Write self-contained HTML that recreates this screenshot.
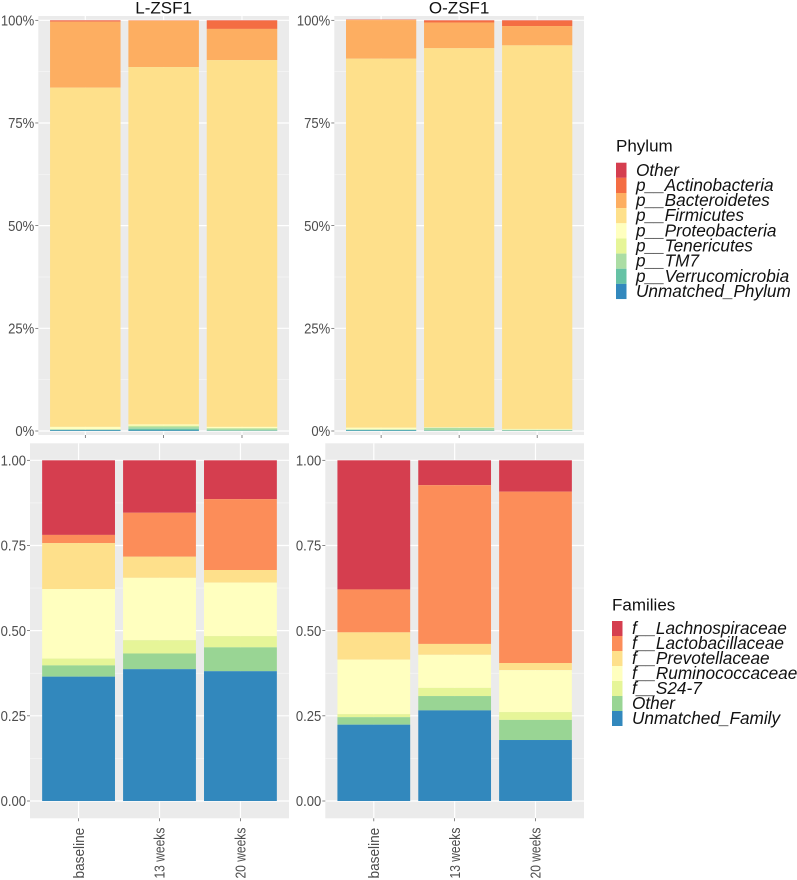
<!DOCTYPE html>
<html lang="en">
<head>
<meta charset="utf-8">
<title>L-ZSF1 and O-ZSF1 composition</title>
<style>
html,body{margin:0;padding:0;background:#fff;width:797px;height:880px;overflow:hidden}
svg{display:block;font-family:"Liberation Sans",sans-serif;filter:blur(0.3px)}
</style>
</head>
<body>
<svg id="chart" xmlns="http://www.w3.org/2000/svg" width="797" height="880" viewBox="0 0 797 880"></svg>
<script>
const timepoints = ['baseline', '13 weeks', '20 weeks'];
const phylumNames = ['Other', 'p__Actinobacteria', 'p__Bacteroidetes', 'p__Firmicutes', 'p__Proteobacteria', 'p__Tenericutes', 'p__TM7', 'p__Verrucomicrobia', 'Unmatched_Phylum'];
const phylumColors = ['#d53e4f', '#f46d43', '#fdae61', '#fee08b', '#ffffbf', '#e6f598', '#abdda4', '#66c2a5', '#3288bd'];
const familyNames = ['f__Lachnospiraceae', 'f__Lactobacillaceae', 'f__Prevotellaceae', 'f__Ruminococcaceae', 'f__S24-7', 'Other', 'Unmatched_Family'];
const familyColors = ['#d53e4f', '#fc8d59', '#fee08b', '#ffffbf', '#e6f598', '#99d594', '#3288bd'];

// Each row: one time point, values in legend order (top of the stack first)
const phylumLZSF1 = [
  [0.05, 0.30, 16.05, 82.60, 0.60, 0.05, 0.05, 0.15, 0.15],
  [0.00, 0.10, 11.30, 87.00, 0.30, 0.20, 0.55, 0.40, 0.15],
  [0.05, 2.05, 7.60, 89.30, 0.30, 0.10, 0.50, 0.05, 0.05]
];
const phylumOZSF1 = [
  [0.05, 0.10, 9.40, 89.85, 0.45, 0.02, 0.03, 0.20, 0.10],
  [0.05, 0.50, 6.25, 92.30, 0.10, 0.05, 0.65, 0.05, 0.05],
  [0.05, 1.35, 4.70, 93.40, 0.20, 0.02, 0.18, 0.05, 0.05]
];
const familyLZSF1 = [
  [0.219, 0.024, 0.135, 0.204, 0.020, 0.033, 0.365],
  [0.154, 0.129, 0.062, 0.183, 0.039, 0.046, 0.387],
  [0.114, 0.208, 0.037, 0.157, 0.033, 0.070, 0.381]
];
const familyOZSF1 = [
  [0.379, 0.126, 0.080, 0.160, 0.009, 0.022, 0.224],
  [0.073, 0.466, 0.032, 0.097, 0.024, 0.042, 0.266],
  [0.092, 0.503, 0.021, 0.123, 0.023, 0.059, 0.179]
];
const percentTicks = [0, 25, 50, 75, 100];
const percentTickLabels = ['0%', '25%', '50%', '75%', '100%'];
const fractionTicks = [0, 0.25, 0.5, 0.75, 1];
const fractionTickLabels = ['0.00', '0.25', '0.50', '0.75', '1.00'];

const NS = 'http://www.w3.org/2000/svg';
const root = document.getElementById('chart');

function make(tag, attrs, parent, text) {
  const el = document.createElementNS(NS, tag);
  for (const k in attrs) el.setAttribute(k, attrs[k]);
  if (text !== undefined) el.textContent = text;
  parent.appendChild(el);
  return el;
}

function squeeze(el, factor) {
  el.setAttribute('lengthAdjust', 'spacingAndGlyphs');
  el.setAttribute('textLength', el.getComputedTextLength() * factor);
}

function drawPanel(cfg) {
  const g = make('g', {}, root);
  
  

  const w = cfg.right - cfg.left;
  const step = w / (timepoints.length + 0.2);
  const xCenter = i => cfg.left + step * (0.6 + i);
  const yScale = v => cfg.y0 + (cfg.y1 - cfg.y0) * v / cfg.max;

  const bg = make('rect', {x: cfg.left, y: cfg.top, width: w, height: cfg.bottom - cfg.top, fill: '#ebebeb'}, g);
  
  

  // minor grid
  for (let i = 0; i < cfg.ticks.length - 1; i++) {
    const yy = yScale((cfg.ticks[i] + cfg.ticks[i + 1]) / 2);
    const minor = make('line', {x1: cfg.left, x2: cfg.right, y1: yy, y2: yy, stroke: '#f6f6f6', 'stroke-width': 0.7}, g);
    
    
  }
  // major grid + y ticks + y labels
  cfg.ticks.forEach((t, i) => {
    const yy = yScale(t);
    const major = make('line', {x1: cfg.left, x2: cfg.right, y1: yy, y2: yy, stroke: '#fff', 'stroke-width': 1.2}, g);
    
    
    const tick = make('line', {x1: cfg.left - 3, x2: cfg.left, y1: yy, y2: yy, stroke: '#555', 'stroke-width': 0.7}, g);
    
    
    const lab = make('text', {x: cfg.left - 4, y: yy + 5.2, 'text-anchor': 'end', 'font-size': 14.5, fill: '#4d4d4d'}, g, cfg.tickLabels[i]);
    
    
    squeeze(lab, 0.9);
  });
  // vertical grid + x ticks
  timepoints.forEach((name, i) => {
    const xx = xCenter(i);
    const vg = make('line', {x1: xx, x2: xx, y1: cfg.top, y2: cfg.bottom, stroke: '#fff', 'stroke-width': 1.2}, g);
    
    
    const tick = make('line', {x1: xx, x2: xx, y1: cfg.bottom, y2: cfg.bottom + 3, stroke: '#555', 'stroke-width': 0.7}, g);
    
    
    if (cfg.showX) {
      const lx = xx + 5.2, ly = 878.5;
      const lab = make('text', {x: lx, y: ly, 'font-size': 14.5, fill: '#4d4d4d', transform: 'rotate(-90 ' + lx + ' ' + ly + ')'}, g, name);
      
      
      squeeze(lab, i === 0 ? 0.94 : 0.83);
    }
  });
  // stacked bars
  const barWidth = step * 0.9;
  cfg.values.forEach((row, i) => {
    let upper = row.reduce((a, b) => a + b, 0);
    row.forEach((v, s) => {
      const lower = upper - v;
      const yTop = yScale(upper), yBot = yScale(lower);
      const seg = make('rect', {x: xCenter(i) - barWidth / 2, y: yTop, width: barWidth, height: Math.max(0, yBot - yTop), fill: cfg.colors[s]}, g);
      
      
      upper = lower;
    });
  });
  if (cfg.title) {
    const title = make('text', {x: (cfg.left + cfg.right) / 2, y: 13.5, 'text-anchor': 'middle', 'font-size': 17, fill: '#111'}, g, cfg.title);
    
    
  }
}

function drawLegend(cfg) {
  const g = make('g', {}, root);
  
  
  const title = make('text', {x: cfg.x, y: cfg.titleY, 'font-size': 17, fill: '#111'}, g, cfg.title);
  
  
  cfg.names.forEach((n, i) => {
    const yy = cfg.y + i * cfg.row;
    const key = make('rect', {x: cfg.x, y: yy, width: 10.5, height: cfg.row, fill: cfg.colors[i]}, g);
    
    
    const lab = make('text', {x: cfg.x + 20, y: yy + cfg.row / 2 + 5.5, 'font-size': 17.2, 'font-style': 'italic', fill: '#111'}, g, n);
    
    
  });
}

const topY = {top: 16, bottom: 435, y0: 431, y1: 20.3, max: 100, ticks: percentTicks, tickLabels: percentTickLabels, colors: phylumColors, showX: false};
const botY = {top: 443.3, bottom: 818.3, y0: 801, y1: 460.3, max: 1, ticks: fractionTicks, tickLabels: fractionTickLabels, colors: familyColors, showX: true};

drawPanel(Object.assign({}, topY, {name: 'phylum-panel-l-zsf1', title: 'L-ZSF1', left: 38.3, right: 289, values: phylumLZSF1}));
drawPanel(Object.assign({}, topY, {name: 'phylum-panel-o-zsf1', title: 'O-ZSF1', left: 334.3, right: 584, values: phylumOZSF1}));
drawPanel(Object.assign({}, botY, {name: 'family-panel-l-zsf1', left: 30, right: 289, values: familyLZSF1}));
drawPanel(Object.assign({}, botY, {name: 'family-panel-o-zsf1', left: 325.3, right: 584, values: familyOZSF1}));

drawLegend({name: 'phylum-legend', title: 'Phylum', x: 616, titleY: 151.5, y: 162.7, row: 15.15, names: phylumNames, colors: phylumColors});
drawLegend({name: 'families-legend', title: 'Families', x: 612, titleY: 610.5, y: 621, row: 15, names: familyNames, colors: familyColors});
</script>
</body>
</html>
